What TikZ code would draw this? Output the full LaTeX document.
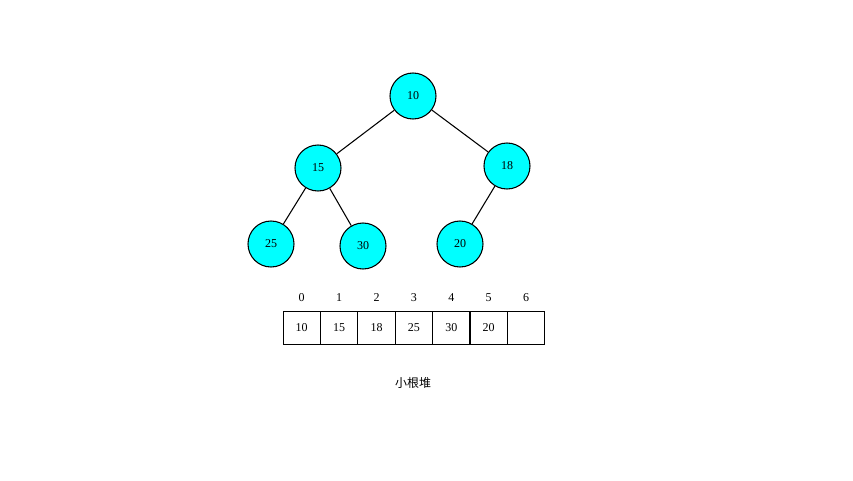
\documentclass[tikz,border=0pt]{standalone}
\usepackage{fontspec}
\setmainfont{Liberation Serif}
\newfontfamily\cjk{Noto Sans CJK SC}
\definecolor{heapcyan}{RGB}{0,255,255}
\tikzset{
  heapnode/.style={circle,draw,thick,fill=heapcyan,minimum size=34.5pt,inner sep=0pt,font=\small},
  cell/.style={draw,thick,minimum width=28pt,minimum height=24.5pt,inner sep=0pt,font=\small},
  edge/.style={thick}
}
\begin{document}
\begin{tikzpicture}[x=0.75pt,y=-0.75pt]
    \useasboundingbox (0,0) rectangle (853,480);
    %tree
    \node[heapnode] (n10) at (413,96) {10};
    \node[heapnode] (n15) at (318,168) {15};
    \node[heapnode] (n18) at (507,166) {18};
    \node[heapnode] (n25) at (271,244) {25};
    \node[heapnode] (n30) at (363,246) {30};
    \node[heapnode] (n20) at (460,244) {20};
    \draw[edge] (n10) -- (n15);
    \draw[edge] (n10) -- (n18);
    \draw[edge] (n15) -- (n25);
    \draw[edge] (n15) -- (n30);
    \draw[edge] (n18) -- (n20);
    %array
    \foreach \v [count=\i from 0] in {10,15,18,25,30,20,{}}
    {
        \node[cell] (c\i) at ({301.7+37.4*\i},328) {\v};
        \node[font=\small] (i\i) at ({301.7+37.4*\i},298) {\i};
    }
    %label
    \node[font=\cjk\small] (title) at (413,383) {小根堆};
\end{tikzpicture}
\end{document}
